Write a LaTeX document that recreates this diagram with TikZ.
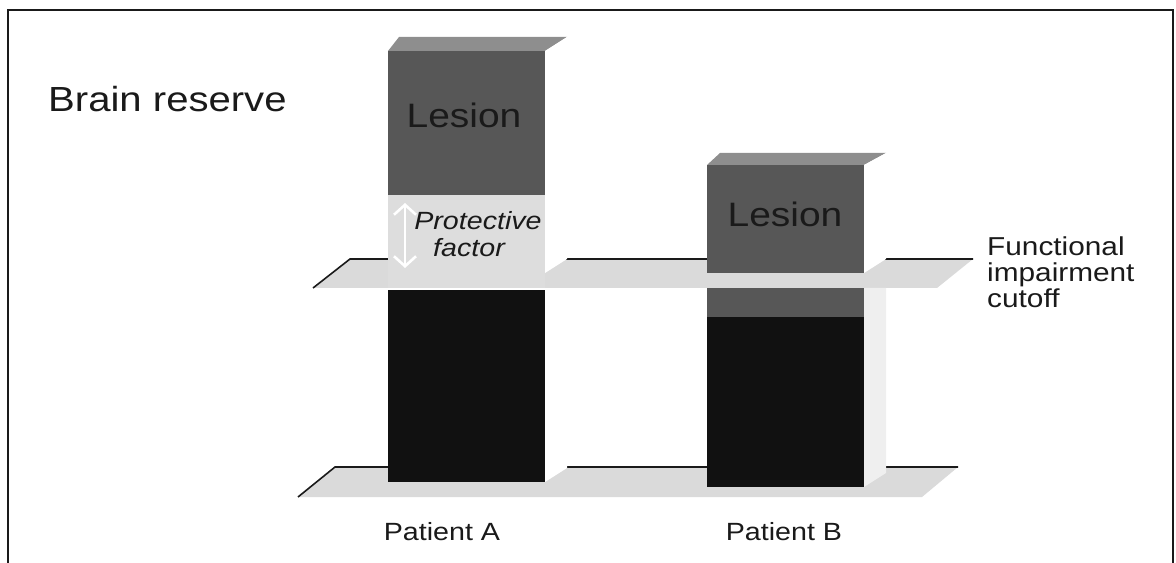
\documentclass[tikz,border=0pt]{standalone}
\usepackage{fontspec}
\setmainfont{Liberation Sans}[FakeStretch=1.15]
\usetikzlibrary{arrows.meta}
\definecolor{lesion}{HTML}{575757}
\definecolor{topface}{HTML}{8E8E8E}
\definecolor{plane}{HTML}{DADADA}
\definecolor{protect}{HTML}{DDDDDD}
\definecolor{core}{HTML}{111111}
\definecolor{sideB}{HTML}{EFEFEF}
\definecolor{ink}{HTML}{1A1A1A}
\tikzset{
  edge/.style={line width=1.6bp, ink},
  frameline/.style={line width=2.2bp, ink},
  lbl/.style={inner sep=0pt, anchor=base, text=ink},
  lblw/.style={inner sep=0pt, anchor=base west, text=ink},
}
\begin{document}
\begin{tikzpicture}[x=1bp,y=-1bp]
\useasboundingbox (0,0) rectangle (1176,563);
% frame
\draw[frameline] (8,563) -- (8,10) -- (1173,10) -- (1173,563);
% lower plane
\fill[plane] (298,497) -- (335,467) -- (958,467) -- (922,497) -- cycle;
\draw[edge] (298,497) -- (335,467) -- (958,467);
% upper plane
\fill[plane] (313,288) -- (350,259) -- (973,259) -- (937,288) -- cycle;
\draw[edge] (313,288) -- (350,259) -- (973,259);
% ---- column A
\fill[topface] (388,51) -- (399,37) -- (567,37) -- (545,51) -- cycle;
\fill[white] (545,51) -- (567,37) -- (567,259) -- (545,273) -- cycle;
\fill[white] (545,290) -- (567,290) -- (567,468) -- (545,482) -- cycle;
\fill[lesion] (388,51) rectangle (545,195);
\fill[protect] (388,195) rectangle (545,288);
\fill[core] (388,290) rectangle (545,482);
% ---- column B
\fill[topface] (707,165) -- (720,153) -- (886,153) -- (864,165) -- cycle;
\fill[white] (864,165) -- (886,153) -- (886,259) -- (864,273) -- cycle;
\fill[sideB] (864,288) -- (886,288) -- (886,473) -- (864,487) -- cycle;
\fill[lesion] (707,165) rectangle (864,273);
\fill[lesion] (707,288) rectangle (864,317);
\fill[core] (707,317) rectangle (864,487);
% arrow
\coordinate (pt) at (405,203);
\coordinate (pb) at (405,268);
\draw[white, line width=2.6bp, {Straight Barb[length=10bp,width=22bp]}-{Straight Barb[length=10bp,width=22bp]}] (pt) -- (pb);
% texts
\node[lblw, font=\fontsize{35}{38}\selectfont] (br) at (48,112) {Brain reserve};
\node[lbl, font=\fontsize{34}{36}\selectfont] (lesA) at (464,128) {Lesion};
\node[lbl, font=\fontsize{34}{36}\selectfont] (lesB) at (785,227) {Lesion};
\node[lbl, font=\fontsize{25}{28}\selectfont\itshape] (prot) at (478,230) {Protective};
\node[lbl, font=\fontsize{25}{28}\selectfont\itshape] (fact) at (469,257) {factor};
\node[lblw, font=\fontsize{26}{28}\selectfont] (fi1) at (987,256) {Functional};
\node[lblw, font=\fontsize{26}{28}\selectfont] (fi2) at (987,282) {impairment};
\node[lblw, font=\fontsize{26}{28}\selectfont] (fi3) at (987,308) {cutoff};
\node[lbl, font=\fontsize{25}{28}\selectfont] (pa) at (442,540) {Patient A};
\node[lbl, font=\fontsize{25}{28}\selectfont] (pb2) at (784,540) {Patient B};
\end{tikzpicture}
\end{document}
